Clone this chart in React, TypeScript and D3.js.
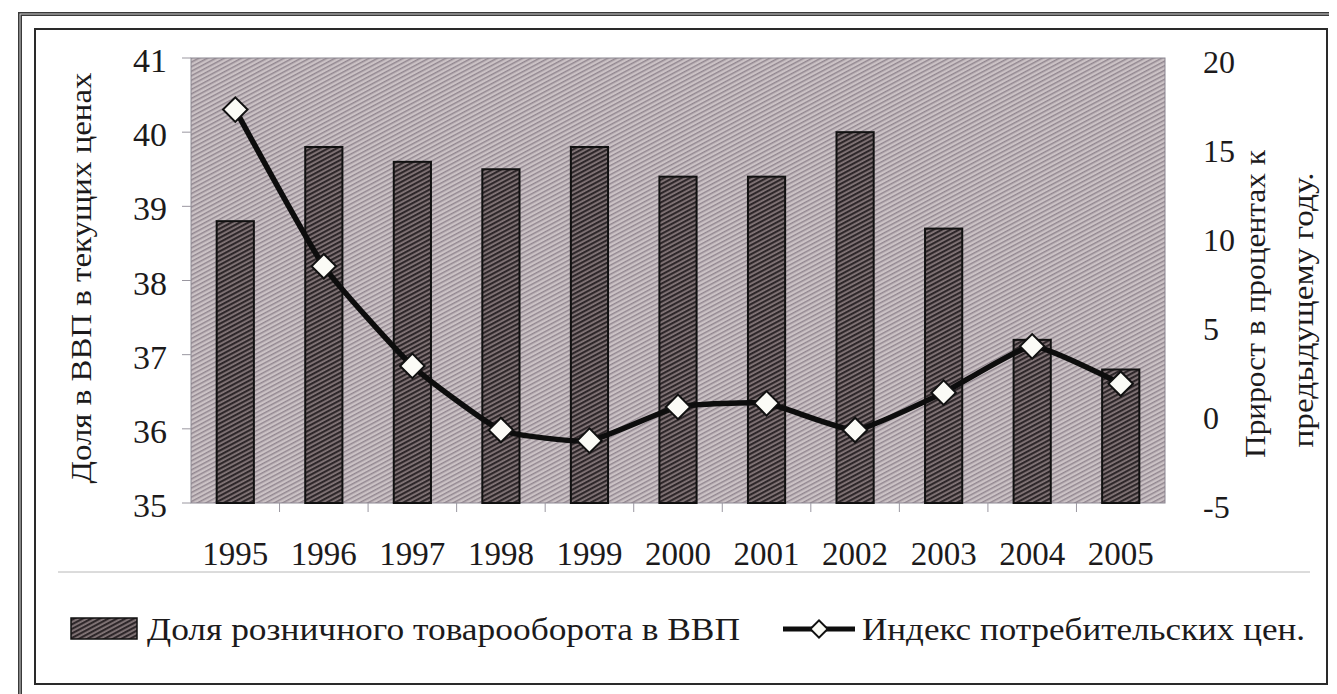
import React from "react";
import * as d3 from "d3";

const years = ["1995", "1996", "1997", "1998", "1999", "2000", "2001", "2002", "2003", "2004", "2005"];
const retailShare = [38.8, 39.8, 39.6, 39.5, 39.8, 39.4, 39.4, 40.0, 38.7, 37.2, 36.8];
const cpiGrowth = [17.1, 8.3, 2.7, -0.9, -1.5, 0.4, 0.6, -0.9, 1.2, 3.8, 1.7];
const leftTicks = [35, 36, 37, 38, 39, 40, 41];
const rightTicks = [-5, 0, 5, 10, 15, 20];
const legendBar = "Доля розничного товарооборота в ВВП";
const legendLine = "Индекс потребительских цен.";
const leftTitle = "Доля в ВВП в текущих ценах";
const rightTitle1 = "Прирост в процентах к";
const rightTitle2 = "предыдущему году.";

const W = 1337;
const H = 694;
const plot = { left: 191, right: 1165, top: 58, bottom: 503 };
const TXT = "#1c1a1b";
const CSS = "svg text.ser { font-family: 'Times New Roman', 'Liberation Serif', Tinos, serif; }";

export default function App() {
  const x = d3
    .scaleBand<string>()
    .domain(years)
    .range([plot.left, plot.right])
    .paddingInner(0.58)
    .paddingOuter(0.29);
  const yL = d3.scaleLinear().domain([35, 41]).range([plot.bottom, plot.top]);
  const yR = d3.scaleLinear().domain([-5, 20]).range([plot.bottom, plot.top]);
  const cx = (y: string) => (x(y) as number) + x.bandwidth() / 2;

  const pts: [number, number][] = years.map((y, i) => [cx(y), yR(cpiGrowth[i])]);
  const linePath = d3.line().curve(d3.curveCardinal.tension(0.55))(pts) || "";
  const diamond = d3.symbol().type(d3.symbolSquare).size(300)() || "";
  const smallDiamond = d3.symbol().type(d3.symbolSquare).size(150)() || "";

  return (
    <svg width={W} height={H} fontFamily="Times New Roman" style={{ display: "block", marginLeft: -8, marginTop: -8 }}>
      <style>{CSS}</style>
      <defs>
        <pattern id="bg" patternUnits="userSpaceOnUse" width="8" height="4" patternTransform="rotate(-28)">
          <rect width="8" height="4" fill="#cbc2c5" />
          <rect y="0" width="8" height="1.5" fill="#928790" />
        </pattern>
        <pattern id="bar" patternUnits="userSpaceOnUse" width="8" height="4" patternTransform="rotate(-28)">
          <rect width="8" height="4" fill="#85787a" />
          <rect y="0" width="8" height="2.2" fill="#2e272a" />
        </pattern>
      </defs>

      <rect x={0} y={0} width={W} height={H} fill="#fff" />
      <rect x={20} y={14} width={1340} height={700} fill="none" stroke="#3a3a3a" strokeWidth={4} />
      <rect x={20} y={14} width={1340} height={700} fill="none" stroke="#cfcfcf" strokeWidth={1} />
      <rect x={35} y={29} width={1292} height={655} fill="none" stroke="#2a2a2a" strokeWidth={2} />

      <rect
        x={plot.left}
        y={plot.top}
        width={plot.right - plot.left}
        height={plot.bottom - plot.top}
        fill="url(#bg)"
        stroke="#8a8590"
        strokeWidth={1}
      />

      {years.slice(1).map((y) => (
        <line
          key={"xt" + y}
          x1={(x(y) as number) - (x.step() - x.bandwidth()) / 2}
          x2={(x(y) as number) - (x.step() - x.bandwidth()) / 2}
          y1={plot.bottom}
          y2={plot.bottom + 9}
          stroke="#9a97a0"
          strokeWidth={1}
        />
      ))}
      {leftTicks.map((t) => (
        <line key={"ltl" + t} x1={plot.left - 9} x2={plot.left} y1={yL(t)} y2={yL(t)} stroke="#9a97a0" strokeWidth={1} />
      ))}

      {years.map((y, i) => (
        <rect
          key={"b" + y}
          x={x(y)}
          y={yL(retailShare[i])}
          width={x.bandwidth()}
          height={plot.bottom - yL(retailShare[i])}
          fill="url(#bar)"
          stroke="#111"
          strokeWidth={2}
        />
      ))}

      <path d={linePath} fill="none" stroke="#0d0d0d" strokeWidth={5.5} strokeLinejoin="round" />
      {pts.map((p, i) => (
        <path
          key={"d" + i}
          d={diamond}
          transform={`translate(${p[0]},${p[1]}) rotate(45)`}
          fill="#fbfbf6"
          stroke="#111"
          strokeWidth={2}
        />
      ))}

      <line x1={58} x2={1310} y1={572} y2={572} stroke="#b8b8b8" strokeWidth={1} />
      <rect x={71} y={618} width={66} height={21} fill="url(#bar)" stroke="#111" strokeWidth={1.5} />
      <line x1={783} x2={855} y1={629} y2={629} stroke="#0d0d0d" strokeWidth={5} />
      <path
        d={smallDiamond}
        transform={`translate(819,629) rotate(45)`}
        fill="#fbfbf6"
        stroke="#111"
        strokeWidth={2}
      />

      <g fill={TXT}>
        {leftTicks.map((t) => (
          <text className="ser" key={"lt" + t} x={167} y={yL(t) + 14} textAnchor="end" fontSize={34}>
            {t}
          </text>
        ))}
        {rightTicks.map((t) => (
          <text className="ser" key={"rt" + t} x={1203} y={yR(t) + 15} textAnchor="start" fontSize={32}>
            {t}
          </text>
        ))}
        {years.map((y) => (
          <text className="ser" key={"xl" + y} x={cx(y)} y={565} textAnchor="middle" fontSize={33}>
            {y}
          </text>
        ))}
        <text
          className="ser"
          transform={`translate(91,278) rotate(-90)`}
          textAnchor="middle"
          fontSize={30}
          textLength={411}
          lengthAdjust="spacingAndGlyphs"
        >
          {leftTitle}
        </text>
        <text
          className="ser"
          transform={`translate(1265,304) rotate(-90)`}
          textAnchor="middle"
          fontSize={30}
          textLength={308}
          lengthAdjust="spacingAndGlyphs"
        >
          {rightTitle1}
        </text>
        <text
          className="ser"
          transform={`translate(1313,310) rotate(-90)`}
          textAnchor="middle"
          fontSize={30}
          textLength={275}
          lengthAdjust="spacingAndGlyphs"
        >
          {rightTitle2}
        </text>
        <text className="ser" x={147} y={640} fontSize={31} textLength={593} lengthAdjust="spacingAndGlyphs">
          {legendBar}
        </text>
        <text className="ser" x={862} y={640} fontSize={31} textLength={443} lengthAdjust="spacingAndGlyphs">
          {legendLine}
        </text>
      </g>
    </svg>
  );
}
